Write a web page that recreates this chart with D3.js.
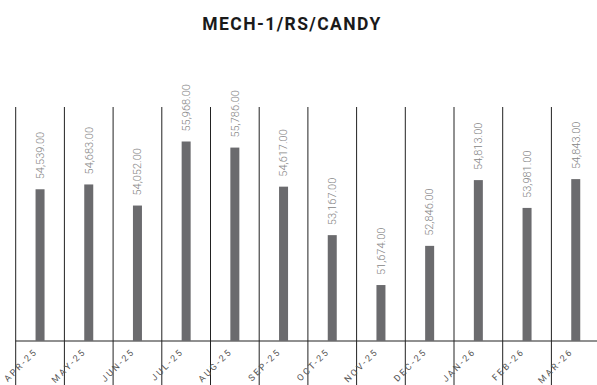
<!DOCTYPE html>
<html><head><meta charset="utf-8">
<script src="https://cdn.jsdelivr.net/npm/d3@7"></script>
<style>
html,body{margin:0;padding:0;background:#fff;}
svg{display:block;}
</style></head>
<body>
<svg id="chart" width="597" height="385"></svg>
<script>
const title = "MECH-1/RS/CANDY";
const categories = ["APR-25","MAY-25","JUN-25","JUL-25","AUG-25","SEP-25","OCT-25","NOV-25","DEC-25","JAN-26","FEB-26","MAR-26"];
const values = [54539, 54683, 54052, 55968, 55786, 54617, 53167, 51674, 52846, 54813, 53981, 54843];
const yDomain = [50000, 57000];

const svg = d3.select("#chart");
const W = 597, H = 385;
const left = 15.7, step = 48.7;
const x = d3.scaleBand().domain(categories).range([left, left + step * categories.length]).padding(0);
const y = d3.scaleLinear().domain(yDomain).range([341, 107]);
const barW = 9;

svg.append("text")
  .attr("x", 292).attr("y", 30)
  .attr("text-anchor", "middle")
  .style("font-family", "Roboto, 'DejaVu Sans', sans-serif")
  .style("font-weight", "700")
  .style("font-size", "17.5px")
  .style("letter-spacing", "1.4px")
  .attr("fill", "#1a1a1a")
  .text(title);

// vertical band separators
svg.append("g").selectAll("line").data(categories).join("line")
  .attr("x1", d => x(d)).attr("x2", d => x(d))
  .attr("y1", y(yDomain[1])).attr("y2", H)
  .attr("stroke", "#222").attr("stroke-width", 1);

// baseline axis
svg.append("line")
  .attr("x1", x(categories[0])).attr("x2", W)
  .attr("y1", y(yDomain[0])).attr("y2", y(yDomain[0]))
  .attr("stroke", "#222").attr("stroke-width", 1.2);

// bars
svg.append("g").selectAll("rect").data(values).join("rect")
  .attr("x", (d, i) => x(categories[i]) + x.bandwidth() / 2 - barW / 2)
  .attr("width", barW)
  .attr("y", d => y(d))
  .attr("height", d => y(yDomain[0]) - y(d))
  .attr("fill", "#6b6b6e");

// value labels
const fmt = d3.format(",.2f");
svg.append("g").selectAll("text").data(values).join("text")
  .attr("transform", (d, i) => `translate(${x(categories[i]) + x.bandwidth() / 2 + 3.8},${y(d) - 10}) rotate(-90)`)
  .attr("text-anchor", "start")
  .style("font-family", "Roboto, sans-serif")
  .style("font-weight", "300")
  .style("font-size", "11px")
  .attr("fill", "#858585")
  .text(d => fmt(d));

// category labels
svg.append("g").selectAll("text").data(categories).join("text")
  .attr("transform", d => `translate(${x(d) + x.bandwidth() / 2 - 2},${y(yDomain[0]) + 11}) rotate(-45)`)
  .attr("text-anchor", "end")
  .style("font-family", "Roboto, sans-serif")
  .style("font-size", "9px")
  .style("letter-spacing", "2.2px")
  .attr("fill", "#555")
  .text(d => d);
</script>
</body></html>
